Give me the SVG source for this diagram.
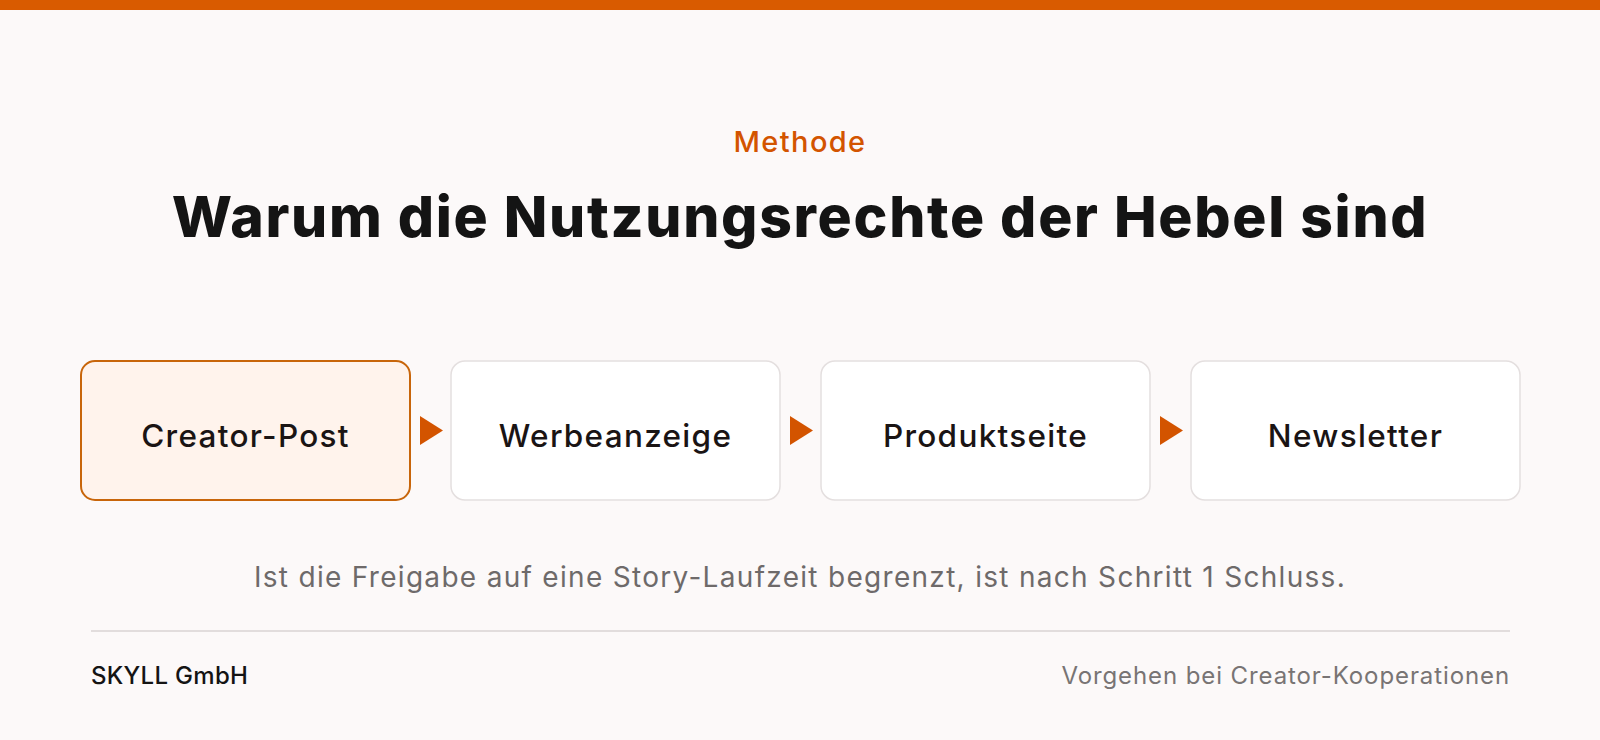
<svg xmlns="http://www.w3.org/2000/svg" width="1600" height="740" viewBox="0 0 1600 740">
<style>
  text { font-family: Inter, "Noto Sans", "Liberation Sans", sans-serif; }
  .kicker { font-size: 29px; font-weight: 500; fill: #D35400; text-anchor: middle; letter-spacing: 1.4px; }
  .title { font-size: 57px; font-weight: 800; fill: #141414; text-anchor: middle; letter-spacing: 1.7px; }
  .box { fill: #FFFFFF; stroke: #E4DFDF; stroke-width: 1.5; }
  .box.active { fill: #FFF3EC; stroke: #C8650A; stroke-width: 2; }
  .label { font-size: 31.5px; font-weight: 500; fill: #1A1414; text-anchor: middle; letter-spacing: 1.3px; }
  .note { font-size: 28px; font-weight: 400; fill: #6E6A6A; text-anchor: middle; letter-spacing: 1.3px; }
  .arrow { fill: #D35400; }
  .foot-l { font-size: 24px; font-weight: 500; fill: #141414; letter-spacing: 0.3px; }
  .foot-r { font-size: 24px; font-weight: 400; fill: #787474; text-anchor: end; letter-spacing: 0.9px; }
</style>
<rect x="0" y="0" width="1600" height="740" fill="#FCF9F9"/>
<rect x="0" y="0" width="1600" height="10" fill="#D95B00"/>
<text class="kicker" x="800" y="152">Methode</text>
<text class="title" x="800" y="237">Warum die Nutzungsrechte der Hebel sind</text>
<g id="node-creator-post">
  <rect class="box active" x="81" y="361" width="329" height="139" rx="14"/>
  <text class="label" x="245.5" y="447">Creator-Post</text>
</g>
<g id="node-werbeanzeige">
  <rect class="box" x="451" y="361" width="329" height="139" rx="14"/>
  <text class="label" x="615.5" y="447">Werbeanzeige</text>
</g>
<g id="node-produktseite">
  <rect class="box" x="821" y="361" width="329" height="139" rx="14"/>
  <text class="label" x="985.5" y="447">Produktseite</text>
</g>
<g id="node-newsletter">
  <rect class="box" x="1191" y="361" width="329" height="139" rx="14"/>
  <text class="label" x="1355.5" y="447">Newsletter</text>
</g>
<g id="connectors">
  <path class="arrow" d="M420,416 L443,430.5 L420,445 Z"/>
  <path class="arrow" d="M790,416 L813,430.5 L790,445 Z"/>
  <path class="arrow" d="M1160,416 L1183,430.5 L1160,445 Z"/>
</g>
<text class="note" x="800" y="587">Ist die Freigabe auf eine Story-Laufzeit begrenzt, ist nach Schritt 1 Schluss.</text>
<line x1="91" y1="631" x2="1510" y2="631" stroke="#E2DDDD" stroke-width="2"/>
<text class="foot-l" x="91" y="684">SKYLL GmbH</text>
<text class="foot-r" x="1510" y="684">Vorgehen bei Creator-Kooperationen</text>
</svg>
